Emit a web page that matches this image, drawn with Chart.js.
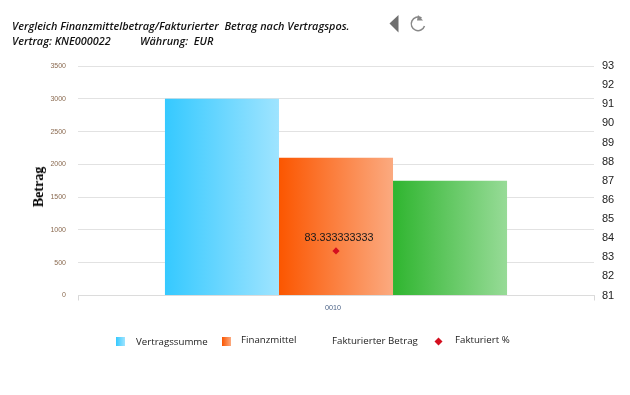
<!DOCTYPE html>
<html><head><meta charset="utf-8">
<style>
html,body{margin:0;padding:0;background:#fff;width:630px;height:395px;overflow:hidden}
#wrap{position:relative;width:630px;height:395px}
canvas{position:absolute;left:0;top:0}
.t{position:absolute;font:italic 600 10.88px "Open Sans",sans-serif;color:#111;white-space:pre}
.l{position:absolute;font:9.7px "Open Sans",sans-serif;color:#222;white-space:pre;line-height:14px}
.i{position:absolute;width:9px;height:9px}
.yt{position:absolute;left:39px;top:187px;transform:translate(-50%,-50%) rotate(-90deg);font:bold 14px "Liberation Serif",serif;color:#000;white-space:pre}
svg{position:absolute}
</style></head><body>
<div id="wrap">
<canvas id="c" width="630" height="395"></canvas>
<div class="t" style="left:12px;top:18px">Vergleich Finanzmittelbetrag/Fakturierter  Betrag nach Vertragspos.</div>
<div class="t" style="left:12px;top:33px">Vertrag: KNE000022</div>
<div class="t" style="left:140px;top:33px">Währung:  EUR</div>
<div class="yt">Betrag</div>
<svg style="left:385px;top:12px" width="45" height="24" viewBox="0 0 45 24">
<path d="M4.5 11.5 L13.5 3 L13.5 20.5 Z" fill="#6f6f6f"/>
<path d="M36.5 6 A6.8 6.8 0 1 0 39.5 14" fill="none" stroke="#888" stroke-width="1.5"/>
<path d="M33 3 L38 8.5 L32 8.5 Z" fill="#888"/>
</svg>
<div id="legend"></div>
</div>
<script src="https://cdn.jsdelivr.net/npm/chart.js@4/dist/chart.umd.min.js"></script>
<script>
const categories = ["0010"];
const vertragssumme = [3000];
const finanzmittel = [2100];
const fakturierterBetrag = [1750];
const fakturiertProzent = [83.333333333];
const leftTicks = [0,500,1000,1500,2000,2500,3000,3500];
const rightTicks = [81,82,83,84,85,86,87,88,89,90,91,92,93];
const seriesNames = ["Vertragssumme","Finanzmittel","Fakturierter Betrag","Fakturiert %"];

function grad(from,to){
  return function(ctx){
    const el = ctx.chart.getDatasetMeta(ctx.datasetIndex).data[ctx.dataIndex];
    if(!el || !isFinite(el.x) || !el.width) return from;
    const g = ctx.chart.ctx.createLinearGradient(el.x-el.width/2,0,el.x+el.width/2,0);
    g.addColorStop(0,from); g.addColorStop(1,to);
    return g;
  };
}
const valueLabel = {
  id:"valueLabel",
  afterDatasetsDraw(chart){
    const meta = chart.getDatasetMeta(3);
    const c = chart.ctx;
    c.save();
    c.font='10.8px "Liberation Sans",sans-serif';
    c.fillStyle="#1a1a1a";
    c.textAlign="center";
    c.textBaseline="middle";
    meta.data.forEach((p,i)=>c.fillText(String(fakturiertProzent[i]),p.x+3,p.y-13));
    c.restore();
  }
};
const chart = new Chart(document.getElementById("c"),{
  type:"bar",
  plugins:[valueLabel],
  data:{
    labels:categories,
    datasets:[
      {type:"bar",label:seriesNames[0],data:vertragssumme,yAxisID:"y",backgroundColor:grad("#35c9ff","#9fe4ff"),order:2},
      {type:"bar",label:seriesNames[1],data:finanzmittel,yAxisID:"y",backgroundColor:grad("#fb5600","#fbaa80"),order:2},
      {type:"bar",label:seriesNames[2],data:fakturierterBetrag,yAxisID:"y",backgroundColor:grad("#2fb52f","#97db97"),order:2},
      {type:"line",label:seriesNames[3],data:fakturiertProzent,yAxisID:"y1",showLine:false,order:1,
       pointStyle:"rectRot",pointRadius:3.6,backgroundColor:"#d40f1f",borderColor:"#d40f1f",borderWidth:0}
    ]
  },
  options:{
    responsive:false,animation:false,
    layout:{padding:{left:31,right:0,top:66,bottom:60}},
    plugins:{legend:{display:false},tooltip:{enabled:false},title:{display:false}},
    datasets:{bar:{categoryPercentage:0.663,barPercentage:1}},
    scales:{
      x:{
        grid:{drawOnChartArea:false,drawTicks:true,tickLength:5,color:"#d8d8d8",offset:true},
        border:{color:"#dcdcdc"},
        ticks:{color:"#4d6488",font:{size:7.2,family:'"Liberation Sans",sans-serif'},padding:3,labelOffset:-3},
        afterFit(s){s.height=39.5;}
      },
      y:{
        position:"left",min:0,max:3500,
        grid:{color:"#e2e2e2",drawTicks:false},
        border:{display:false},
        afterBuildTicks(s){s.ticks=leftTicks.map(v=>({value:v}));},
        ticks:{color:"#8a6a50",font:{size:7,family:'"Liberation Sans",sans-serif'},padding:12,callback:v=>String(v)},
        afterFit(s){s.width=47;}
      },
      y1:{
        position:"right",min:81,max:93,
        grid:{display:false,drawTicks:false},
        border:{display:false},
        afterBuildTicks(s){s.ticks=rightTicks.map(v=>({value:v}));},
        ticks:{color:"#222",font:{size:11,family:'"Liberation Sans",sans-serif'},padding:8,autoSkip:false,callback:v=>String(v)},
        afterFit(s){s.width=36;}
      }
    }
  }
});
chart.update("none");
const lg=document.getElementById("legend");
const lay=[{tx:136,ty:335,ix:116,iy:337,c:"linear-gradient(90deg,#35c9ff,#9fe4ff)"},
           {tx:241,ty:333,ix:222,iy:337,c:"linear-gradient(90deg,#fb5600,#fbaa80)"},
           {tx:332,ty:334},
           {tx:455,ty:333}];
seriesNames.forEach((n,i)=>{
  const d=document.createElement("div");d.className="l";d.textContent=n;
  d.style.left=lay[i].tx+"px";d.style.top=lay[i].ty+"px";lg.appendChild(d);
  if(lay[i].c){const b=document.createElement("div");b.className="i";b.style.left=lay[i].ix+"px";b.style.top=lay[i].iy+"px";b.style.background=lay[i].c;lg.appendChild(b);}
});
lg.insertAdjacentHTML("beforeend",'<svg style="left:434px;top:337px" width="9" height="9"><path d="M4.5 0.5L8.5 4.5L4.5 8.5L0.5 4.5Z" fill="#d40f1f"/></svg>');
</script>
</body></html>
